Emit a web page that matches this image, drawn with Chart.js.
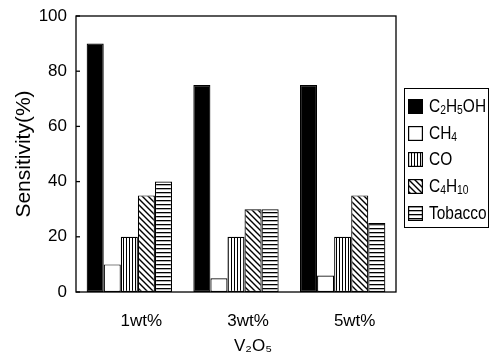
<!DOCTYPE html>
<html><head><meta charset="utf-8">
<script src="https://cdn.jsdelivr.net/npm/chart.js@4.4.1/dist/chart.umd.min.js"></script>
<style>
html,body{margin:0;padding:0;background:#fff;}
#wrap{position:relative;width:494px;height:355px;}
#legend{position:absolute;left:404px;top:88px;width:85px;height:140px;border:1.5px solid #000;box-sizing:border-box;font-family:"Liberation Sans",Arial,sans-serif;font-size:18px;color:#000;padding-top:4px;}
.item{display:flex;align-items:center;height:26.8px;padding-left:3px;white-space:nowrap;}
.item canvas{margin-right:6px;flex:none;}
.item span{display:inline-block;transform:scaleX(0.86);transform-origin:left center;}
sub{font-size:12px;vertical-align:-2px;line-height:0;}
</style></head>
<body><div id="wrap"><canvas id="c" width="494" height="355"></canvas>
<div id="legend"></div></div>
<script>
const categories = ["1wt%", "3wt%", "5wt%"];
const seriesNames = ["C2H5OH", "CH4", "CO", "C4H10", "Tobacco"];
const seriesHtml = ["C<sub>2</sub>H<sub>5</sub>OH", "CH<sub>4</sub>", "CO", "C<sub>4</sub>H<sub>10</sub>", "Tobacco"];
const c2h5oh = [90, 75, 75];
const ch4 = [10, 5, 6];
const co = [20, 20, 20];
const c4h10 = [35, 30, 35];
const tobacco = [40, 30, 25];
const yTicks = [0, 20, 40, 60, 80, 100];
const xTitle = "V₂O₅";
const yTitle = "Sensitivity(%)";

function makePattern(kind) {
  const t = document.createElement('canvas');
  const ctx = t.getContext('2d');
  if (kind === 'solid') { t.width = t.height = 4; ctx.fillStyle = '#000'; ctx.fillRect(0,0,4,4); }
  else if (kind === 'white') { t.width = t.height = 4; ctx.fillStyle = '#fff'; ctx.fillRect(0,0,4,4); }
  else if (kind === 'vert') { t.width = 3; t.height = 3; ctx.fillStyle='#fff'; ctx.fillRect(0,0,3,3); ctx.fillStyle='#000'; ctx.fillRect(0,0,1,3); }
  else if (kind === 'horiz') { t.width = 4; t.height = 4; ctx.fillStyle='#fff'; ctx.fillRect(0,0,4,4); ctx.fillStyle='#000'; ctx.fillRect(0,0,4,1.3); }
  else if (kind === 'diag') {
    const s = 6; t.width = t.height = s; ctx.fillStyle='#fff'; ctx.fillRect(0,0,s,s);
    ctx.strokeStyle='#000'; ctx.lineWidth=1.4;
    ctx.beginPath(); ctx.moveTo(0,0); ctx.lineTo(s,s); ctx.moveTo(-s/2, s/2); ctx.lineTo(s/2, s*1.5); ctx.moveTo(s/2,-s/2); ctx.lineTo(s*1.5,s/2); ctx.stroke();
  }
  return ctx.createPattern(t, 'repeat');
}
const kinds = ['solid','white','vert','diag','horiz'];
const values = [c2h5oh, ch4, co, c4h10, tobacco];

const mainCtx = document.getElementById('c').getContext('2d');
const datasets = seriesNames.map((n,i)=>({
  label: n, data: values[i], backgroundColor: makePattern(kinds[i]),
  borderColor: '#000', borderWidth: 1.2, borderSkipped: false,
  categoryPercentage: 0.8, barPercentage: 1.0
}));

const regular = '"Liberation Sans", Arial, sans-serif';
const framePlugin = {
  id: 'frame',
  afterDraw(chart) {
    const {ctx, chartArea: a, scales} = chart;
    ctx.save(); ctx.strokeStyle = '#000'; ctx.lineWidth = 1.3;
    ctx.strokeRect(a.left, a.top, a.right - a.left, a.bottom - a.top);
    yTicks.forEach(v => { const y = scales.y.getPixelForValue(v); ctx.beginPath(); ctx.moveTo(a.left, y); ctx.lineTo(a.left + 4, y); ctx.stroke(); });
    // x-axis title, placed under the middle category label as in the original
    ctx.fillStyle = '#000'; ctx.font = '17px ' + regular; ctx.textAlign = 'center'; ctx.textBaseline = 'middle';
    ctx.fillText(xTitle, scales.x.getPixelForValue(1) + 17, a.bottom + 54);
    ctx.restore();
  }
};

new Chart(mainCtx, {
  type: 'bar',
  data: {labels: categories, datasets},
  options: {
    responsive: false, animation: false, devicePixelRatio: 1,
    layout: {padding: {left: 0, right: 98, top: 16, bottom: 0}},
    plugins: {legend: {display: false}, tooltip: {enabled: false}},
    scales: {
      x: {
        grid: {display: false, drawTicks: false},
        border: {display: false},
        ticks: {color: '#000', font: {family: regular, size: 17}, padding: 19, labelOffset: 12},
        afterFit(s) { s.height = 63; s.paddingLeft = 0; s.paddingRight = 0; }
      },
      y: {
        min: 0, max: 100,
        afterBuildTicks(s) { s.ticks = yTicks.map(v => ({value: v})); },
        grid: {display: false, drawTicks: false},
        border: {display: false},
        ticks: {color: '#000', font: {family: regular, size: 17}, padding: 9},
        title: {display: true, text: yTitle, color: '#000', font: {family: regular, size: 21}, padding: {top: 12, bottom: 0}},
        afterFit(s) { s.width = 76; s.paddingTop = 0; s.paddingBottom = 0; }
      }
    }
  },
  plugins: [framePlugin]
});

// HTML legend with the same patterns
const leg = document.getElementById('legend');
seriesNames.forEach((n,i)=>{
  const d = document.createElement('div'); d.className = 'item';
  const sw = document.createElement('canvas'); sw.width = 15; sw.height = 15;
  const sc = sw.getContext('2d'); sc.fillStyle = makePattern(kinds[i]); sc.fillRect(0,0,15,15);
  sc.strokeStyle = '#000'; sc.lineWidth = 1.2; sc.strokeRect(0.6,0.6,13.8,13.8);
  const sp = document.createElement('span'); sp.innerHTML = seriesHtml[i];
  d.appendChild(sw); d.appendChild(sp); leg.appendChild(d);
});
</script></body></html>
